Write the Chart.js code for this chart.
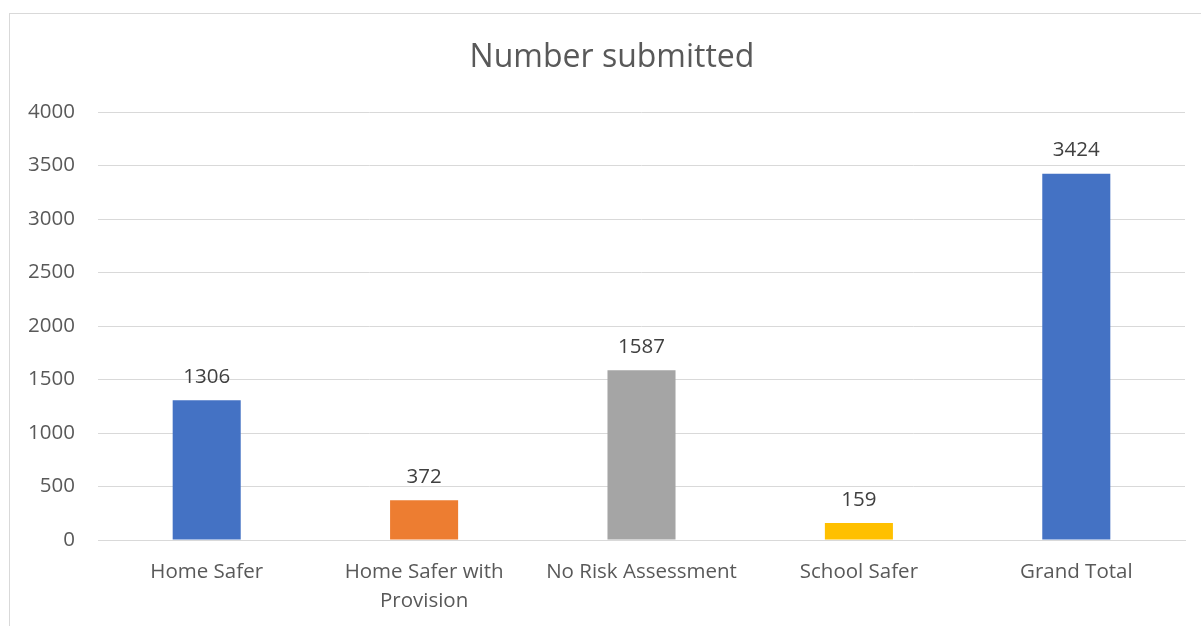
<!DOCTYPE html>
<html>
<head>
<meta charset="utf-8">
<script src="https://cdn.jsdelivr.net/npm/chart.js@4/dist/chart.umd.min.js"></script>
<style>
  html, body { margin: 0; padding: 0; background: #ffffff; overflow: hidden; }
  #frame {
    position: absolute; left: 9px; top: 13px; width: 1300px; height: 700px;
    border: 1px solid #d9d9d9; box-sizing: border-box;
  }
  #wrap { position: absolute; left: 0; top: 0; width: 1201px; height: 626px; }
</style>
</head>
<body>
<div id="frame"></div>
<div id="wrap"><canvas id="chart"></canvas></div>
<script>
// Chart values
const categories = ['Home Safer', ['Home Safer with', 'Provision'], 'No Risk Assessment', 'School Safer', 'Grand Total'];
const submitted = [1306, 372, 1587, 159, 3424];
const barColors = ['#4472C4', '#ED7D31', '#A5A5A5', '#FFC000', '#4472C4'];
const yTicks = [0, 500, 1000, 1500, 2000, 2500, 3000, 3500, 4000];
const chartTitle = 'Number submitted';

const FONT = "'Open Sans', sans-serif";

// Title is centred on the outer chart frame, not on the plot area
const frameTitle = {
  id: 'frameTitle',
  afterDraw(chart) {
    const ctx = chart.ctx;
    ctx.save();
    ctx.font = '32px ' + FONT;
    ctx.fillStyle = '#595959';
    ctx.textAlign = 'center';
    ctx.textBaseline = 'middle';
    ctx.fillText(chartTitle, 612, 58);
    ctx.restore();
  }
};

// Draw value labels above each bar
const valueLabels = {
  id: 'valueLabels',
  afterDatasetsDraw(chart) {
    const ctx = chart.ctx;
    const meta = chart.getDatasetMeta(0);
    ctx.save();
    ctx.font = '20.5px ' + FONT;
    ctx.fillStyle = '#404040';
    ctx.textAlign = 'center';
    ctx.textBaseline = 'middle';
    meta.data.forEach((bar, i) => {
      ctx.fillText(String(submitted[i]), bar.x, bar.y - 23);
    });
    ctx.restore();
  }
};

const ctx = document.getElementById('chart').getContext('2d');
new Chart(ctx, {
  type: 'bar',
  data: {
    labels: categories,
    datasets: [{
      label: chartTitle,
      data: submitted,
      backgroundColor: barColors,
      borderWidth: 0,
      categoryPercentage: 1,
      barPercentage: 0.313
    }]
  },
  options: {
    responsive: true,
    maintainAspectRatio: false,
    animation: false,
    layout: { padding: { left: 0, right: 16, top: 112, bottom: 0 } },
    plugins: {
      legend: { display: false },
      tooltip: { enabled: false },
      title: { display: false }
    },
    scales: {
      x: {
        grid: { display: false, drawTicks: false },
        border: { display: true, color: '#d9d9d9', width: 1 },
        ticks: {
          color: '#595959',
          font: { family: FONT, size: 20.5, lineHeight: 1.4 },
          padding: 18,
          maxRotation: 0,
          autoSkip: false
        },
        afterFit(scale) { scale.height = 86; }
      },
      y: {
        min: 0,
        max: 4000,
        afterBuildTicks(scale) { scale.ticks = yTicks.map(v => ({ value: v })); },
        grid: { color: '#d9d9d9', lineWidth: 1, drawTicks: false },
        border: { display: false },
        ticks: {
          color: '#595959',
          font: { family: FONT, size: 20.5 },
          padding: 23,
          callback: (value) => String(value)
        },
        afterFit(scale) { scale.width = 98; }
      }
    }
  },
  plugins: [valueLabels, frameTitle]
});
</script>
</body>
</html>
